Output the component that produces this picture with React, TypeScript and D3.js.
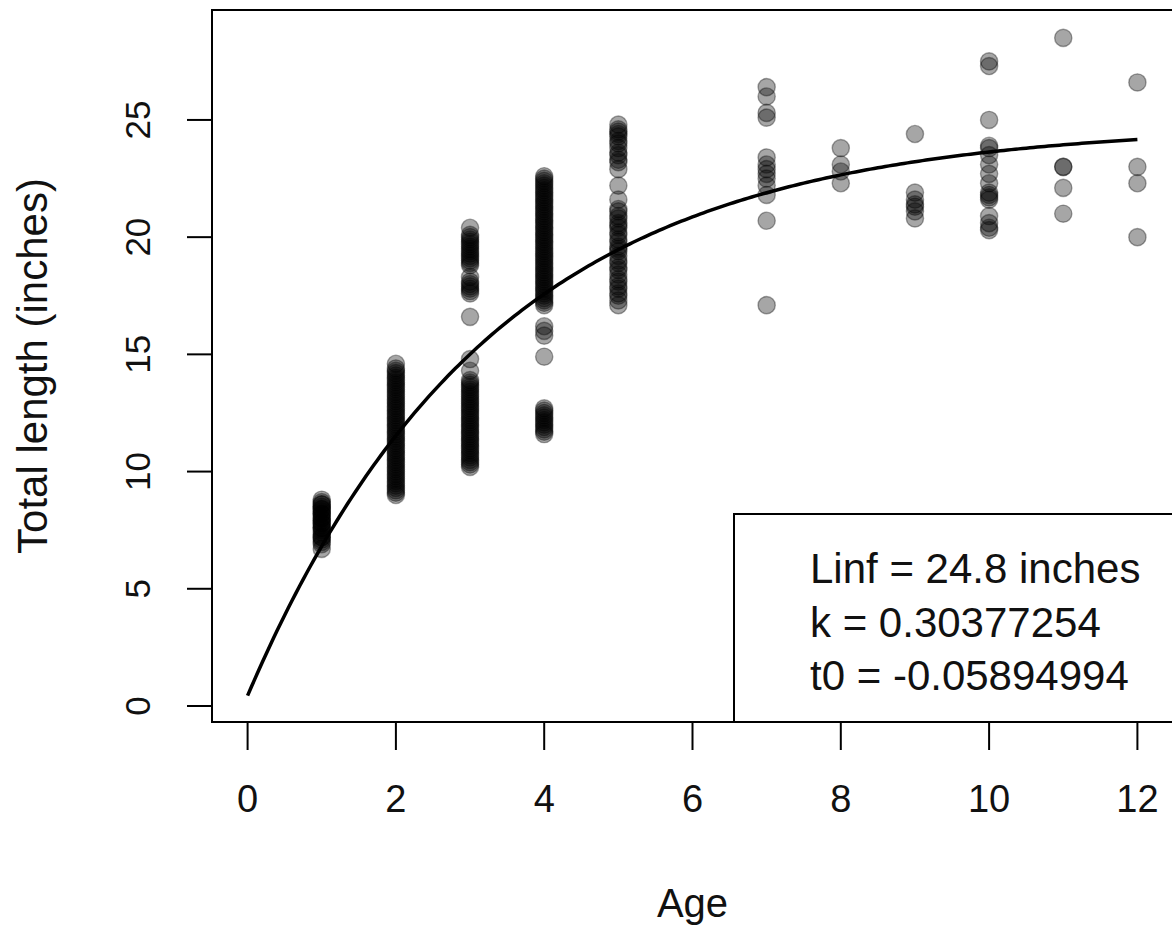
import React from "react";
import * as d3 from "d3";

// ---- data ----
const age1 = [8.8, 8.7, 8.6, 8.6, 8.5, 8.4, 8.4, 8.3, 8.2, 8.2, 8.1, 8.0, 8.0, 7.9, 7.8, 7.8, 7.7, 7.6, 7.6, 7.5, 7.4, 7.3, 7.2, 7.2, 7.1, 7.0, 6.9, 6.7];
const age2 = [14.6, 14.4, 14.3, 14.2, 14.1, 14.0, 13.9, 13.8, 13.7, 13.6, 13.5, 13.4, 13.3, 13.2, 13.1, 13.0, 12.9, 12.8, 12.7, 12.6, 12.5, 12.4, 12.3, 12.2, 12.1, 12.0, 11.9, 11.8, 11.7, 11.6, 11.5, 11.4, 11.3, 11.2, 11.1, 11.0, 10.9, 10.8, 10.7, 10.6, 10.5, 10.4, 10.3, 10.2, 10.1, 10.0, 9.9, 9.8, 9.7, 9.6, 9.5, 9.4, 9.3, 9.2, 9.1, 9.0];
const age3 = [20.4, 20.1, 20.0, 19.9, 19.8, 19.7, 19.6, 19.5, 19.4, 19.3, 19.2, 19.1, 19.0, 18.9, 18.8, 18.3, 18.1, 18.0, 17.9, 17.8, 17.7, 17.6, 16.6, 14.8, 14.3, 13.9, 13.8, 13.7, 13.6, 13.5, 13.4, 13.3, 13.2, 13.1, 13.0, 12.9, 12.8, 12.7, 12.6, 12.5, 12.4, 12.3, 12.2, 12.1, 12.0, 11.9, 11.8, 11.7, 11.6, 11.5, 11.4, 11.3, 11.2, 11.1, 11.0, 10.9, 10.8, 10.7, 10.6, 10.5, 10.4, 10.3, 10.2];
const age4 = [22.6, 22.5, 22.4, 22.3, 22.2, 22.1, 22.0, 21.9, 21.8, 21.7, 21.6, 21.5, 21.4, 21.3, 21.2, 21.1, 21.0, 20.9, 20.8, 20.7, 20.6, 20.5, 20.4, 20.3, 20.2, 20.1, 20.0, 19.9, 19.8, 19.7, 19.6, 19.5, 19.4, 19.3, 19.2, 19.1, 19.0, 18.9, 18.8, 18.7, 18.6, 18.5, 18.4, 18.3, 18.2, 18.1, 18.0, 17.9, 17.8, 17.7, 17.6, 17.5, 17.4, 17.3, 17.2, 17.1, 16.2, 16.0, 15.8, 14.9, 12.7, 12.6, 12.5, 12.4, 12.3, 12.2, 12.1, 12.0, 11.9, 11.8, 11.7, 11.6];
const age5 = [24.8, 24.6, 24.5, 24.4, 24.3, 24.1, 24.0, 23.8, 23.6, 23.5, 23.3, 23.2, 22.9, 22.2, 21.6, 21.2, 21.1, 20.9, 20.8, 20.6, 20.5, 20.4, 20.2, 20.1, 19.9, 19.8, 19.6, 19.5, 19.4, 19.2, 19.0, 18.9, 18.7, 18.6, 18.4, 18.2, 18.1, 17.9, 17.8, 17.6, 17.5, 17.3, 17.1];
const age7 = [26.4, 26.0, 25.3, 25.1, 23.4, 23.1, 22.9, 22.7, 22.5, 22.2, 21.8, 20.7, 17.1];
const age8 = [23.8, 23.1, 22.8, 22.3];
const age9 = [24.4, 21.9, 21.6, 21.4, 21.3, 21.1, 20.8];
const age10 = [27.5, 27.3, 25.0, 23.9, 23.8, 23.5, 23.1, 22.7, 22.3, 21.9, 21.8, 21.7, 21.6, 20.9, 20.6, 20.4, 20.3];
const age11 = [28.5, 23.0, 23.0, 22.1, 21.0];
const age12 = [26.6, 23.0, 22.3, 20.0];

const ages = [1, 2, 3, 4, 5, 7, 8, 9, 10, 11, 12];
const lengthsByAge = [age1, age2, age3, age4, age5, age7, age8, age9, age10, age11, age12];

const xTicks = [0, 2, 4, 6, 8, 10, 12];
const yTicks = [0, 5, 10, 15, 20, 25];

// von Bertalanffy fit parameters (from the legend)
const Linf = 24.8;
const kParam = 0.30377254;
const t0 = -0.05894994;
const legendLines = ["Linf = 24.8 inches", "k = 0.30377254", "t0 = -0.05894994"];

const W = 1172;
const H = 934;
const FONT = "'Liberation Sans', Arial, sans-serif";

export default function App() {
  const left = 212, right = 1173, top = 10, bottom = 722;
  const x = d3.scaleLinear().domain([-0.48, 12.48]).range([left, right]);
  const y = d3.scaleLinear().domain([-0.683, 29.69]).range([bottom, top]);

  const points = ages.flatMap((a, i) => lengthsByAge[i].map((v) => ({ a, v })));
  const curveAges = d3.range(0, 12.0001, 0.05);
  const line = d3
    .line<number>()
    .x((t) => x(t))
    .y((t) => y(Linf * (1 - Math.exp(-kParam * (t - t0)))));

  const textColor = "#111";

  return (
    <svg
      width={W}
      height={H}
      style={{ position: "fixed", left: 0, top: 0, background: "#fff" }}
    >
      <rect x={0} y={0} width={W} height={H} fill="#fff" />
      <defs>
        <clipPath id="plotclip">
          <rect x={left} y={top} width={right - left} height={bottom - top} />
        </clipPath>
      </defs>
      <g clipPath="url(#plotclip)">
        {points.map((p, i) => (
          <circle
            key={i}
            cx={x(p.a)}
            cy={y(p.v)}
            r={8.6}
            fill="#000"
            fillOpacity={0.35}
            stroke="#000"
            strokeOpacity={0.35}
            strokeWidth={1.4}
          />
        ))}
        <path d={line(curveAges) || ""} fill="none" stroke="#000" strokeWidth={3.5} strokeLinejoin="round" />
      </g>

      {/* legend */}
      <rect x={734} y={514} width={right + 10 - 734} height={bottom - 514} fill="#fff" stroke="#000" strokeWidth={2} />
      {legendLines.map((t, i) => (
        <text key={t} x={810} y={583 + i * 53.5} fontFamily={FONT} fontSize={42} fill={textColor}>
          {t}
        </text>
      ))}

      {/* box */}
      <rect x={left} y={top} width={right - left + 10} height={bottom - top} fill="none" stroke="#000" strokeWidth={2} />

      {/* x axis */}
      <line x1={x(0)} x2={x(12)} y1={bottom} y2={bottom} stroke="#000" strokeWidth={2} />
      {xTicks.map((t) => (
        <g key={t}>
          <line x1={x(t)} x2={x(t)} y1={bottom} y2={750} stroke="#000" strokeWidth={2} />
          <text x={x(t)} y={812} textAnchor="middle" fontFamily={FONT} fontSize={38} fill={textColor}>
            {t}
          </text>
        </g>
      ))}
      <text x={(left + right) / 2} y={917} textAnchor="middle" fontFamily={FONT} fontSize={40} fill={textColor}>
        Age
      </text>

      {/* y axis */}
      {yTicks.map((t) => (
        <g key={t}>
          <line x1={187} x2={left} y1={y(t)} y2={y(t)} stroke="#000" strokeWidth={2} />
          <text
            transform={`translate(150,${y(t)}) rotate(-90)`}
            textAnchor="middle"
            fontFamily={FONT}
            fontSize={35}
            fill={textColor}
          >
            {t}
          </text>
        </g>
      ))}
      <text
        transform={`translate(47,${(top + bottom) / 2}) rotate(-90)`}
        textAnchor="middle"
        fontFamily={FONT}
        fontSize={42}
        fill={textColor}
      >
        Total length (inches)
      </text>
    </svg>
  );
}
